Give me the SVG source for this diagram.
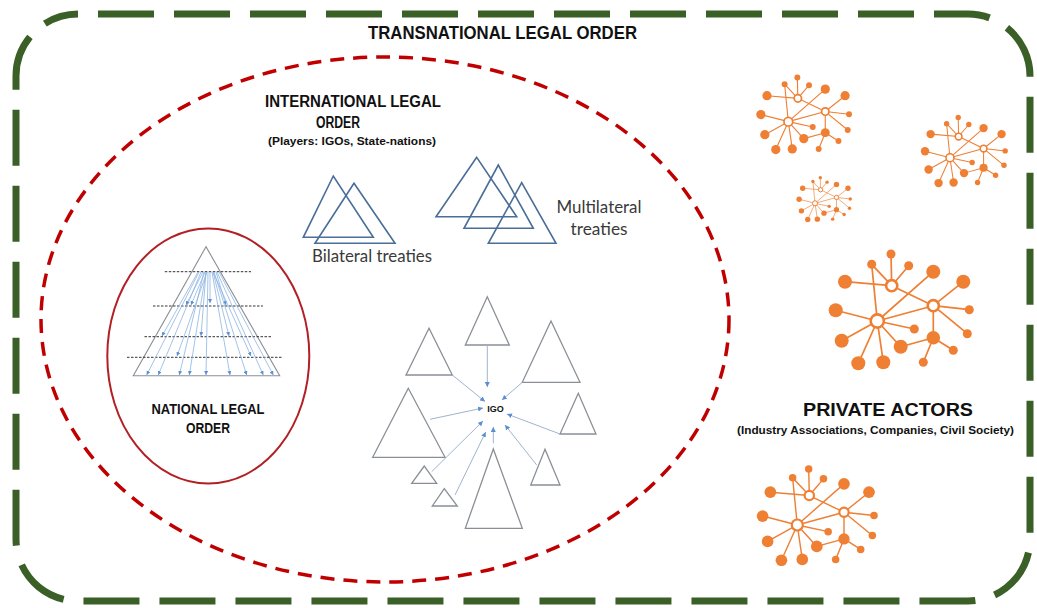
<svg xmlns="http://www.w3.org/2000/svg" xmlns:xlink="http://www.w3.org/1999/xlink" width="1037" height="608" viewBox="0 0 1037 608">
<defs>
<style>
.bold{font-family:"Liberation Sans Narrow","Liberation Sans",Arial,sans-serif;font-weight:bold;fill:#111}
.reg{font-family:Lato,"Open Sans","Liberation Sans",sans-serif;fill:#3a3a3a}
.tri{fill:none;stroke:#4A6E98;stroke-width:1.6;stroke-linejoin:miter}
.gtri{fill:none;stroke:#8A8F96;stroke-width:1.3}
.conn{stroke:#9FB4CE;stroke-width:1;fill:none;marker-end:url(#ah)}
.fan{stroke:#8DB4E2;stroke-width:0.8;fill:none;marker-end:url(#ahs)}
.dash{stroke:#333;stroke-width:1;stroke-dasharray:2.5 1.5}
.ne{stroke:#EE7F33;stroke-width:1.7;fill:none}
.nn{fill:#EE7F33}
.hub{fill:#fff;stroke:#EE7F33;stroke-width:2.6}
</style>
<marker id="ah" viewBox="0 0 6 6" refX="6" refY="3" markerUnits="userSpaceOnUse" markerWidth="5" markerHeight="5" orient="auto"><path d="M0,0 L6,3 L0,6 z" fill="#5B8FD0"/></marker>
<marker id="ahs" viewBox="0 0 6 6" refX="6" refY="3" markerUnits="userSpaceOnUse" markerWidth="4" markerHeight="4" orient="auto"><path d="M0,0 L6,3 L0,6 z" fill="#5B8FD0"/></marker>
<symbol id="net" overflow="visible">
<g class="ne">
<path d="M71.7,40.7L71,9M71.7,40.7L51.7,19.3M71.7,40.7L88.7,20.7M71.7,40.7L25,36.7M71.7,40.7L113.3,60.7"/>
<path d="M57.3,76L51.7,19.3M57.3,76L113.3,26.7M57.3,76L113.3,60.7M57.3,76L94.3,84M57.3,76L15.7,65.3M57.3,76L21.7,95.7M57.3,76L38.3,118.3M57.3,76L63.3,117.3M57.3,76L80.7,101.7"/>
<path d="M113.3,60.7L143.3,36.7M113.3,60.7L149.3,64.7M113.3,60.7L147.3,88.7M113.3,60.7L113.3,92.7"/>
<path d="M113.3,92.7L80.7,101.7M113.3,92.7L133.3,105.3M113.3,92.7L103.3,117.3"/>
</g>
<g class="nn">
<circle cx="71" cy="9" r="4.5"/><circle cx="51.7" cy="19.3" r="4.5"/><circle cx="88.7" cy="20.7" r="4.5"/>
<circle cx="25" cy="36.7" r="7"/><circle cx="113.3" cy="26.7" r="7"/><circle cx="143.3" cy="36.7" r="7"/>
<circle cx="15.7" cy="65.3" r="7"/><circle cx="149.3" cy="64.7" r="4.5"/><circle cx="94.3" cy="84" r="4.5"/>
<circle cx="147.3" cy="88.7" r="4.5"/><circle cx="21.7" cy="95.7" r="7"/><circle cx="80.7" cy="101.7" r="7"/>
<circle cx="133.3" cy="105.3" r="4.5"/><circle cx="38.3" cy="118.3" r="7"/><circle cx="63.3" cy="117.3" r="7"/>
<circle cx="103.3" cy="117.3" r="4.5"/><circle cx="113.3" cy="92.7" r="6.8"/>
</g>
<circle class="hub" cx="71.7" cy="40.7" r="5.6"/>
<circle class="hub" cx="113.3" cy="60.7" r="5.6"/>
<circle class="hub" cx="57.3" cy="76" r="6.6"/>
</symbol>
</defs>
<rect width="1037" height="608" fill="#fff"/>

<g id="transnational">
<rect x="16" y="14" width="1014" height="587" rx="62" ry="62" fill="none" stroke="#3A5F27" stroke-width="7" stroke-dasharray="56 20" stroke-dashoffset="56"/>
<text class="bold" x="502.5" y="39" font-size="18" text-anchor="middle" textLength="269" lengthAdjust="spacingAndGlyphs">TRANSNATIONAL LEGAL ORDER</text>
</g>

<g id="international">
<ellipse cx="385" cy="319.5" rx="344" ry="262.5" fill="none" stroke="#C00000" stroke-width="3.5" stroke-dasharray="14 9"/>
<text class="bold" x="353" y="107" font-size="16" text-anchor="middle" textLength="176" lengthAdjust="spacingAndGlyphs">INTERNATIONAL LEGAL</text>
<text class="bold" x="338" y="127.5" font-size="16" text-anchor="middle" textLength="44" lengthAdjust="spacingAndGlyphs">ORDER</text>
<text class="bold" x="352" y="145" font-size="11" text-anchor="middle" textLength="168" lengthAdjust="spacingAndGlyphs">(Players: IGOs, State-nations)</text>
</g>

<g id="bilateral">
<path class="tri" d="M333.3,176L303.3,237.3L373.3,237.3Z"/>
<path class="tri" d="M354,183.3L315,243.3L395,243.3Z"/>
<text class="reg" x="372" y="262" font-size="17" text-anchor="middle" textLength="120" lengthAdjust="spacingAndGlyphs">Bilateral treaties</text>
</g>

<g id="multilateral">
<path class="tri" d="M476.7,157.3L436,216.7L516.7,216.7Z"/>
<path class="tri" d="M498.3,165L464,228.3L533.3,228.3Z"/>
<path class="tri" d="M521.7,182.7L488.3,243.3L556,243.3Z"/>
<text class="reg" x="599" y="213" font-size="17" text-anchor="middle" textLength="85" lengthAdjust="spacingAndGlyphs">Multilateral</text>
<text class="reg" x="599" y="235" font-size="17" text-anchor="middle" textLength="57" lengthAdjust="spacingAndGlyphs">treaties</text>
</g>

<g id="national">
<ellipse cx="208.3" cy="356" rx="101" ry="127.5" fill="none" stroke="#B22025" stroke-width="2"/>
<path d="M206,246.7L133.3,375.7L279.7,375.7Z" fill="none" stroke="#8A8F96" stroke-width="1.1"/>
<g class="dash">
<path d="M164.8,271.7H251M153,306H263M144.5,336.7H271.5M127,357.3H282.6"/>
</g>
<g class="fan">
<path d="M199,272L146.7,375"/><path d="M201,272L158.3,375"/><path d="M204,272L179.3,375"/>
<path d="M206,272L189.3,375"/><path d="M208,272L206,375"/><path d="M212,272L230,375"/>
<path d="M214,272L246.7,375"/><path d="M217,272L263.3,375"/><path d="M219,272L273.3,375"/>
<path d="M210,272L210,303"/><path d="M203,272L186,305"/><path d="M205,272L191,305"/><path d="M216,272L226,305"/>
<path d="M198,272L162,336"/><path d="M206,272L201,336"/><path d="M213,272L229,336"/>
<path d="M207,272L177,356"/><path d="M213,272L251,356"/>
</g>
<text class="bold" x="208" y="414" font-size="14" text-anchor="middle" textLength="113" lengthAdjust="spacingAndGlyphs">NATIONAL LEGAL</text>
<text class="bold" x="208" y="433" font-size="14" text-anchor="middle" textLength="44" lengthAdjust="spacingAndGlyphs">ORDER</text>
</g>

<g id="igo">
<path class="gtri" d="M487.3,296.7L465.3,345L509.3,345Z"/>
<path class="gtri" d="M429,328.3L406,375L452.3,375Z"/>
<path class="gtri" d="M551,321L522.3,382.3L580,382.3Z"/>
<path class="gtri" d="M408.3,388.3L372.7,457.3L445,457.3Z"/>
<path class="gtri" d="M578.3,393.3L560,434L596,434Z"/>
<path class="gtri" d="M424.3,466L411.7,483.3L436.7,483.3Z"/>
<path class="gtri" d="M444.3,488.7L432.3,506L457.3,506Z"/>
<path class="gtri" d="M493.3,449L465.3,528.3L522.3,528.3Z"/>
<path class="gtri" d="M545,449.3L530.7,485L560,485Z"/>
<text class="bold" x="495.5" y="412" font-size="9" text-anchor="middle">IGO</text>
</g>

<g id="connectors">
<path class="conn" d="M487.3,345L487.3,387"/>
<path class="conn" d="M452.3,375L485,401.5"/>
<path class="conn" d="M522.3,382.3L502,400"/>
<path class="conn" d="M430,419.3L483,408"/>
<path class="conn" d="M560,434L507,414"/>
<path class="conn" d="M431.7,471.7L483,421"/>
<path class="conn" d="M455,495L485.7,432"/>
<path class="conn" d="M493.3,443.3L493.3,427"/>
<path class="conn" d="M536.7,465L505,425"/>
</g>

<g id="private">
<use xlink:href="#net" href="#net" transform="translate(750.5,71.5) scale(0.66)"/>
<use xlink:href="#net" href="#net" transform="translate(915.6,112.1) scale(0.6)"/>
<use xlink:href="#net" href="#net" transform="translate(793.1,174.2) scale(0.383)"/>
<use xlink:href="#net" href="#net" transform="translate(820,245)"/>
<use xlink:href="#net" href="#net" transform="translate(749.5,461.6) scale(0.834)"/>
<text class="bold" x="888" y="416" font-size="19" text-anchor="middle" textLength="170" lengthAdjust="spacingAndGlyphs">PRIVATE ACTORS</text>
<text class="bold" x="875.5" y="434" font-size="11.5" text-anchor="middle" textLength="277" lengthAdjust="spacingAndGlyphs">(Industry Associations, Companies, Civil Society)</text>
</g>
</svg>
